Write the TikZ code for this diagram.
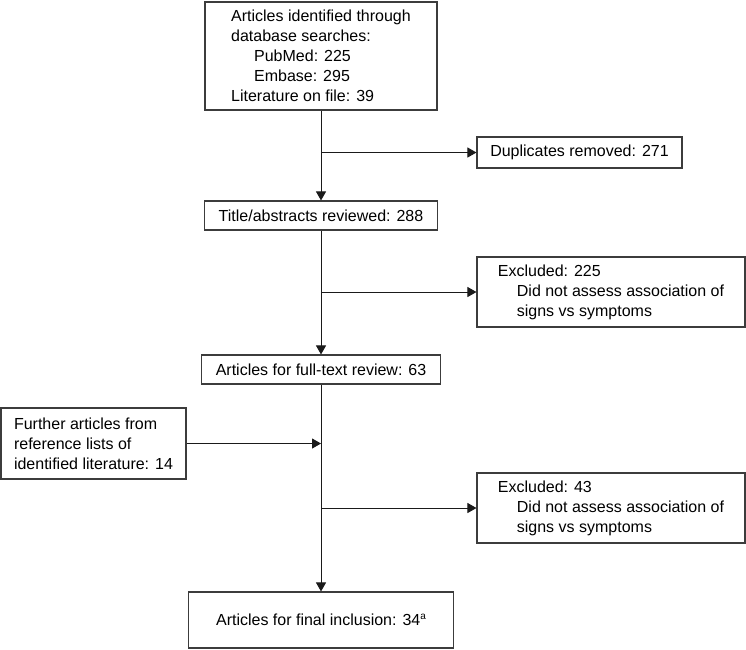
\documentclass[tikz,border=0pt]{standalone}
\usepackage{fontspec}
\setmainfont{Liberation Sans}
\usetikzlibrary{arrows.meta}
\definecolor{FCLine}{HTML}{1A1A1A}
\definecolor{FCBox}{HTML}{3C3C3C}

\begin{document}
\begin{tikzpicture}[x=1pt,y=-1pt,
  fcbox/.style={draw=FCBox,line width=1.1pt,inner sep=0pt,align=left,
    font=\fontsize{16}{20}\selectfont},
  fcarrow/.style={draw=FCLine,line width=1pt,-{Triangle[length=9pt,width=10pt]}}]
\path[use as bounding box] (0,0) rectangle (746,649);
\node[fcbox,minimum width=232,minimum height=108] (ident) at (321,56)
  {Articles identified through\\database searches:\\\hspace*{23pt}PubMed: 225\\\hspace*{23pt}Embase: 295\\Literature on file: 39};
\node[fcbox,minimum width=205,minimum height=31] (dupl) at (579.5,152.5)
  {Duplicates removed: 271};
\node[fcbox,minimum width=233,minimum height=29] (title) at (321,215.5)
  {Title/abstracts reviewed: 288};
\node[fcbox,minimum width=268,minimum height=70] (excla) at (611,292)
  {Excluded: 225\\\hspace*{19pt}Did not assess association of\\\hspace*{19pt}signs vs symptoms};
\node[fcbox,minimum width=239,minimum height=29] (fulltext) at (321,369.5)
  {Articles for full-text review: 63};
\node[fcbox,minimum width=185,minimum height=71] (further) at (93.5,443.5)
  {Further articles from\\reference lists of\\identified literature: 14};
\node[fcbox,minimum width=268,minimum height=70] (exclb) at (611,508)
  {Excluded: 43\\\hspace*{19pt}Did not assess association of\\\hspace*{19pt}signs vs symptoms};
\node[fcbox,minimum width=265,minimum height=56] (final) at (321,620)
  {Articles for final inclusion: 34{\fontsize{10}{10}\selectfont\raisebox{6pt}{a}}};
\coordinate (ja) at (ident.south |- dupl.west);
\coordinate (jb) at (title.south |- excla.west);
\coordinate (jc) at (fulltext.south |- further.east);
\coordinate (jd) at (fulltext.south |- exclb.west);
\draw[fcarrow] (ident.south) -- (title.north);
\draw[fcarrow] (ja) -- (dupl.west);
\draw[fcarrow] (title.south) -- (fulltext.north);
\draw[fcarrow] (jb) -- (excla.west);
\draw[fcarrow] (fulltext.south) -- (final.north);
\draw[fcarrow] (further.east) -- (jc);
\draw[fcarrow] (jd) -- (exclb.west);
\end{tikzpicture}
\end{document}
